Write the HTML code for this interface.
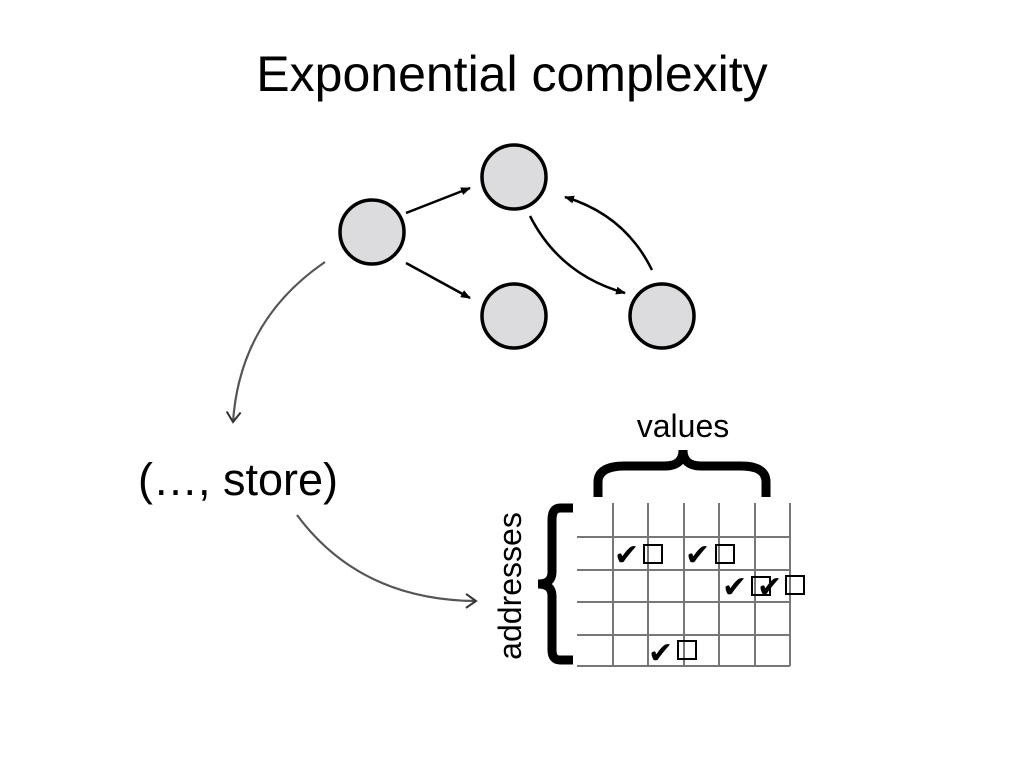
<!DOCTYPE html>
<html><head><meta charset="utf-8"><style>
html,body{margin:0;padding:0;background:#fff;}
body{width:1024px;height:768px;position:relative;overflow:hidden;font-family:"Liberation Sans",sans-serif;}
</style></head><body>
<svg width="1024" height="768" viewBox="0 0 1024 768" xmlns="http://www.w3.org/2000/svg" style="position:absolute;left:0;top:0">
<defs>
<marker id="ah" markerWidth="10" markerHeight="8" refX="9" refY="4" orient="auto" markerUnits="userSpaceOnUse">
<path d="M0,0 L10,4 L0,8 Z" fill="#000"/></marker>
<marker id="ao" markerWidth="16" markerHeight="16" refX="12" refY="8" orient="auto" markerUnits="userSpaceOnUse">
<path d="M2,1 L12,8 L2,15" fill="none" stroke="#333" stroke-width="2"/></marker>
</defs>
<text x="512" y="91" text-anchor="middle" font-size="50" font-family="Liberation Sans, sans-serif">Exponential complexity</text>
<g fill="#dcdcde" stroke="#000" stroke-width="3.5">
<circle cx="372" cy="232" r="32"/>
<circle cx="514" cy="177" r="32"/>
<circle cx="514" cy="316" r="32"/>
<circle cx="662" cy="316" r="32"/>
</g>
<g stroke="#000" stroke-width="2.5" fill="none">
<line x1="406" y1="213" x2="470" y2="188" marker-end="url(#ah)"/>
<line x1="406" y1="263" x2="470" y2="298" marker-end="url(#ah)"/>
<path d="M530,216 Q560,275 625,293" marker-end="url(#ah)"/>
<path d="M652,270 Q625,215 565,197" marker-end="url(#ah)"/>
</g>
<g stroke="#555" stroke-width="2.2" fill="none">
<path d="M325,262 Q240,320 233,422" marker-end="url(#ao)"/>
<path d="M297,515 Q360,600 476,601" marker-end="url(#ao)"/>
</g>
<text x="238" y="495" text-anchor="middle" font-size="45">(…, store)</text>
<text x="683" y="437" text-anchor="middle" font-size="32">values</text>
<text transform="translate(521,586) rotate(-90)" text-anchor="middle" font-size="32">addresses</text>
<g stroke="#000" stroke-width="9" fill="none" stroke-linecap="butt">
<path d="M598,497 L598,482 Q598,466 625,466 L665,466 Q683,466 683,450 Q683,466 701,466 L741,466 Q766,466 766,482 L766,497"/>
<path d="M573,508 L560,508 Q552,508 552,520 L552,572 Q552,584 538,584 Q552,584 552,596 L552,650 Q552,660 560,660 L573,660"/>
</g>
<g stroke="#777" stroke-width="2">
<line x1="613" y1="503" x2="613" y2="666"/>
<line x1="648" y1="503" x2="648" y2="666"/>
<line x1="684" y1="503" x2="684" y2="666"/>
<line x1="719" y1="503" x2="719" y2="666"/>
<line x1="755" y1="503" x2="755" y2="666"/>
<line x1="790" y1="503" x2="790" y2="666"/>
<line x1="577" y1="537" x2="790" y2="537"/>
<line x1="577" y1="570" x2="790" y2="570"/>
<line x1="577" y1="602" x2="790" y2="602"/>
<line x1="577" y1="635" x2="790" y2="635"/>
<line x1="577" y1="666" x2="790" y2="666"/>
</g>
<g font-size="30" font-weight="bold" font-family="DejaVu Sans, sans-serif">
<text x="614" y="565">✔</text>
<text x="685" y="565">✔</text>
<text x="722" y="597">✔</text>
<text x="757" y="597">✔</text>
<text x="648" y="663">✔</text>
</g>
<g fill="none" stroke="#000" stroke-width="2">
<rect x="644" y="545" width="18" height="18"/>
<rect x="716" y="545" width="18" height="18"/>
<rect x="752" y="577" width="18" height="18"/>
<rect x="786" y="576" width="18" height="18"/>
<rect x="678" y="641" width="18" height="18"/>
</g>
</svg>
</body></html>
